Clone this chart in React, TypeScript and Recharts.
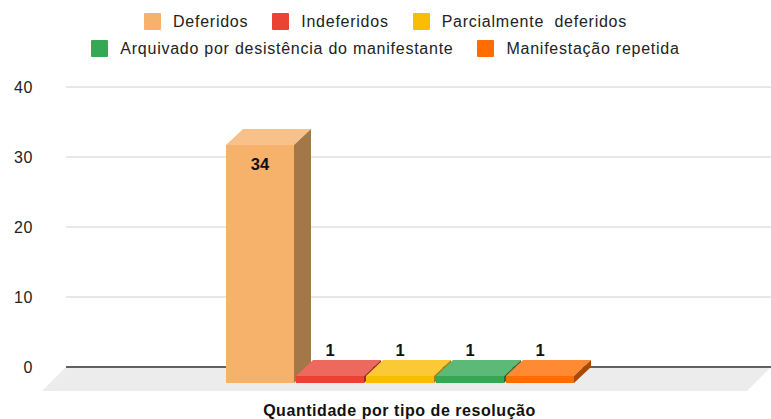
import React from 'react';
import { BarChart, Bar, XAxis, YAxis, CartesianGrid, Legend, ReferenceLine } from 'recharts';

const CATEGORY = 'Quantidade por tipo de resolução';
const SERIES = [
  'Deferidos',
  'Indeferidos',
  'Parcialmente  deferidos',
  'Arquivado por desistência do manifestante',
  'Manifestação repetida',
];
const VALUES = [34, 1, 1, 1, 1];
const Y_TICKS = [0, 10, 20, 30, 40];

// cor da frente, do topo e da lateral de cada série
const FRONT = ['#f6b26b', '#ea4335', '#fbbc04', '#34a853', '#ff6d01'];
const TOP = ['#f8c18a', '#ee695d', '#fbc935', '#5db976', '#ff8a34'];
const SIDE = ['#a47748', '#9c2d23', '#a77d03', '#237038', '#aa4901'];

const data = [
  SERIES.reduce((row: any, s, i) => ({ ...row, [s]: VALUES[i] }), { name: CATEGORY }),
];

const DX = 17;
const DY = 16;
const FLOOR = 24;
const RIGHT = 4;
const ARIAL = '"Liberation Sans", Arial, sans-serif';

const Bar3D = (props: any) => {
  const { x, y, width, height, idx } = props;
  const fx = x - DX;
  const fy = y + DY;
  const w = width;
  const v = VALUES[idx];
  const inside = height > 40;
  return (
    <g>
      <polygon points={`${fx},${fy} ${fx + w},${fy} ${x + w},${y} ${x},${y}`} fill={TOP[idx]} />
      <polygon
        points={`${fx + w},${fy} ${x + w},${y} ${x + w},${y + height} ${fx + w},${fy + height}`}
        fill={SIDE[idx]}
      />
      <rect x={fx} y={fy} width={w} height={height} fill={FRONT[idx]} />
      <text
        x={fx + w / 2}
        y={inside ? fy + 25 : y - 4}
        textAnchor="middle"
        fontFamily={ARIAL}
        fontWeight="bold"
        fontSize={16.5}
        fill="#111"
      >
        {v}
      </text>
    </g>
  );
};

const Floor = (props: any) => {
  const { x1, y1 } = props;
  const x2 = props.x2 + RIGHT;
  return (
    <g>
      <polygon
        points={`${x1},${y1} ${x2},${y1} ${x2 - FLOOR},${y1 + FLOOR} ${x1 - FLOOR},${y1 + FLOOR}`}
        fill="#ececec"
      />
      <line x1={x1} y1={y1} x2={x2} y2={y1} stroke="#333" strokeWidth={1.5} />
    </g>
  );
};

const GridLine = (p: any) => (
  <line key={p.key} x1={p.x1} y1={p.y1} x2={p.x2 + RIGHT} y2={p.y2} stroke="#d0d0d0" strokeWidth={1} />
);

const LegendRows = () => {
  const rows = [SERIES.slice(0, 3), SERIES.slice(3)];
  let k = 0;
  return (
    <div style={{ fontFamily: ARIAL, fontSize: 16, letterSpacing: 0.75, color: '#222' }}>
      {rows.map((row, r) => (
        <div
          key={r}
          style={{ display: 'flex', justifyContent: 'center', height: 27, alignItems: 'center' }}
        >
          {row.map((s) => {
            const i = k++;
            return (
              <div key={s} style={{ display: 'flex', alignItems: 'center', margin: '0 12px' }}>
                <span
                  style={{ width: 17, height: 17, background: FRONT[i], borderRadius: 1, marginRight: 12 }}
                />
                <span style={{ whiteSpace: 'pre' }}>{s}</span>
              </div>
            );
          })}
        </div>
      ))}
    </div>
  );
};

const XLabel = (p: any) => {
  const vb = p.viewBox || { x: 66, y: 367, width: 701, height: 52 };
  return (
    <text
      x={vb.x + vb.width / 2 - 17}
      y={vb.y + vb.height - 3}
      textAnchor="middle"
      fontFamily={ARIAL}
      fontWeight="bold"
      fontSize={16}
      letterSpacing={0.55}
      fill="#111"
    >
      {CATEGORY}
    </text>
  );
};

export default function App() {
  return (
    <div style={{ position: 'absolute', left: 0, top: 0, width: 771, height: 419, background: '#fff' }}>
      <BarChart
        width={771}
        height={419}
        data={data}
        margin={{ top: 87, right: RIGHT, bottom: 0, left: 0 }}
        barSize={68}
        barGap={2}
      >
        <CartesianGrid vertical={false} horizontal={GridLine} />
        <ReferenceLine y={0} shape={Floor} ifOverflow="visible" zIndex={-50} />
        <XAxis
          dataKey="name"
          tick={false}
          axisLine={false}
          tickLine={false}
          height={52}
          label={{ content: XLabel }}
        />
        <YAxis
          domain={[0, 40]}
          ticks={Y_TICKS}
          width={66}
          axisLine={false}
          tickLine={false}
          tickSize={0}
          tickMargin={33}
          tick={{ fontFamily: ARIAL, fontSize: 16, letterSpacing: 0.6, fill: '#222' }}
        />
        <Legend
          verticalAlign="middle"
          align="center"
          layout="horizontal"
          wrapperStyle={{ top: 8, left: 0, width: 771 }}
          content={LegendRows}
        />
        {SERIES.map((s, i) => (
          <Bar
            key={s}
            dataKey={s}
            fill={FRONT[i]}
            isAnimationActive={false}
            shape={(p: any) => <Bar3D {...p} idx={i} />}
          />
        ))}
      </BarChart>
    </div>
  );
}
